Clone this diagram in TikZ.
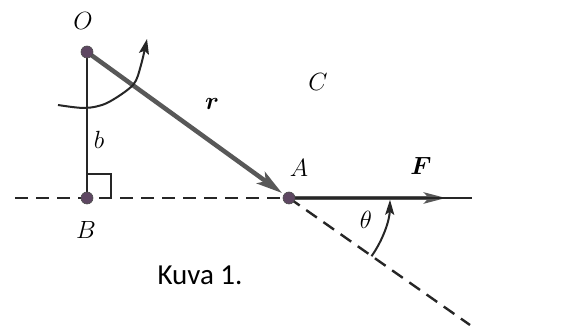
\documentclass[tikz,border=0pt]{standalone}
\usepackage{fontspec}
\usepackage{bm}
\newfontfamily\kuvafont{Carlito}
\usetikzlibrary{arrows.meta,calc}
\definecolor{dotc}{HTML}{5E4762}
\definecolor{vecc}{HTML}{585858}
\begin{document}
\begin{tikzpicture}[x=1pt,y=1pt,
  thinline/.style={line width=2pt,black!85},
  dashline/.style={line width=2.4pt,black!85,dash pattern=on 13pt off 8pt},
  vecline/.style={line width=4.5pt,vecc},
  dotstyle/.style={circle,fill=dotc,draw=black!70,line width=0.6pt,minimum size=12pt,inner sep=0pt},
  lab/.style={font=\fontsize{25.5}{28}\selectfont},
]
\useasboundingbox (0,0) rectangle (568,326);
\fill[white] (0,0) rectangle (568,326);
% points
\coordinate (Op) at (87,274);
\coordinate (Bp) at (87,128);
\coordinate (Ap) at (289,128);
\coordinate (Lft) at (15,128);
\coordinate (Rgt) at (472,128);
\coordinate (Ftip) at (446,128);
\coordinate (Dend) at (470,1);
% dashed lines
\draw[dashline] (Lft) -- (Ap);
\draw[dashline] (Ap) -- (Dend);
% perpendicular b
\draw[thinline] (Op) -- (Bp);
\draw[thinline] (87,152) -- (111,152) -- (111,128);
% r vector
\draw[vecline,-{Stealth[length=26pt,width=14pt,inset=6pt]}] (Op) -- (282,133);
% F vector
\draw[vecline,-{Stealth[length=22pt,width=11pt,inset=5pt]}] (Ap) -- (Ftip);
\draw[line width=1.5pt,black!85] (Ap) -- (Rgt);
% rotation arrow at O
\draw[thinline,-{Stealth[length=15pt,width=10pt,inset=3pt]}]
  plot[smooth] coordinates {(58,221) (85,218) (107,223) (133,241) (141,261) (147,287)};
% theta arc
\draw[thinline,-{Stealth[length=15pt,width=9pt,inset=3pt]}] ($(Ap)+(-35.2:101)$) arc[start angle=-35.2,end angle=-1,radius=101];
% dots
\node[dotstyle] (O) at (Op) {};
\node[dotstyle] (A) at (Ap) {};
\node[dotstyle] (B) at (Bp) {};
% labels
\node[lab] (lO) at (83,305) {$O$};
\node[lab] (lr) at (212,222) {$\bm{r}$};
\node[lab] (lC) at (318,244) {$C$};
\node[lab] (lb) at (99,186) {$b$};
\node[lab] (lA) at (299,158) {$A$};
\node[lab] (lF) at (421,160) {$\bm{F}$};
\node[lab] (lB) at (86,96) {$B$};
\node[lab] (lt) at (366,106) {$\theta$};
\node[anchor=base,font=\kuvafont\fontsize{29}{32}\selectfont] (kuva) at (200,41) {Kuva 1.};
\end{tikzpicture}
\end{document}
